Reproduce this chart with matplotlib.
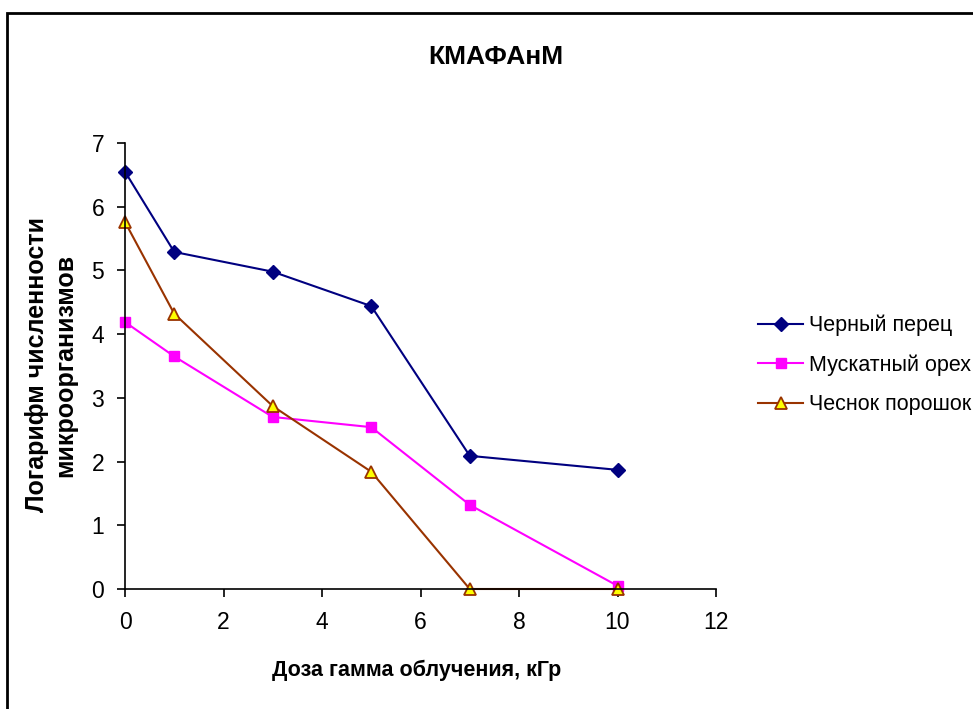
import matplotlib.pyplot as plt
from matplotlib.patches import Rectangle

plt.rcParams['font.family'] = ['Liberation Sans', 'DejaVu Sans']

# доза облучения, кГр
dose = [0, 1, 3, 5, 7, 10]
# логарифм численности микроорганизмов
black_pepper = [6.55, 5.29, 4.98, 4.44, 2.09, 1.87]
nutmeg = [4.19, 3.65, 2.70, 2.54, 1.32, 0.05]
garlic = [5.76, 4.32, 2.87, 1.84, 0.0, 0.0]

series_names = ['Черный перец', 'Мускатный орех', 'Чеснок порошок']

W, H = 973, 709
fig = plt.figure(figsize=(W / 100, H / 100), dpi=100)
# рамка вокруг диаграммы
fig.patches.append(Rectangle((7 / W, -0.1), 1.2, 1 - 13 / H + 0.1,
                             transform=fig.transFigure, fill=False,
                             edgecolor='black', linewidth=2))
ax = fig.add_axes([125 / W, 1 - 589 / H, (716 - 125) / W, (589 - 143) / H])

ax.plot(dose, black_pepper, color='#000080', marker='D', markersize=7,
        linewidth=1.5, label=series_names[0])
ax.plot(dose, nutmeg, color='#FF00FF', marker='s', markersize=7,
        linewidth=1.5, label=series_names[1])
ax.plot(dose, garlic, color='#993300', marker='^', markersize=9,
        markerfacecolor='#FFFF00', markeredgecolor='#993300',
        markeredgewidth=1.3, linewidth=1.5, label=series_names[2])

ax.set_xlim(0, 12)
ax.set_ylim(0, 7)
ax.set_xticks(range(0, 13, 2))
ax.set_yticks(range(0, 8))
ax.spines['top'].set_visible(False)
ax.spines['right'].set_visible(False)
ax.tick_params(labelsize=16.5, length=6, width=1.2)
ax.tick_params(axis='x', pad=10)
ax.tick_params(axis='y', pad=9)
for s in ['left', 'bottom']:
    ax.spines[s].set_linewidth(1.2)
for ln in ax.lines:
    ln.set_clip_on(False)

fig.text(417 / W, 1 - 670 / H, 'Доза гамма облучения, кГр', fontsize=15.5,
         fontweight='bold', ha='center', va='center')
fig.text(51 / W, 1 - 365 / H, 'Логарифм численности\nмикроорганизмов',
         fontsize=18, fontweight='bold', rotation=90, ha='center',
         va='center', multialignment='center', linespacing=1.25)
fig.text(496 / W, 1 - 57 / H, 'КМАФАнМ', fontsize=19, fontweight='bold',
         ha='center', va='center')

fig.legend(loc='center left', bbox_to_anchor=(758 / W, 1 - 365 / H),
           frameon=False, fontsize=15.5, handlelength=2.1, handletextpad=0.25,
           labelspacing=0.85, borderaxespad=0, borderpad=0)

fig.savefig('out.png', dpi=100)
